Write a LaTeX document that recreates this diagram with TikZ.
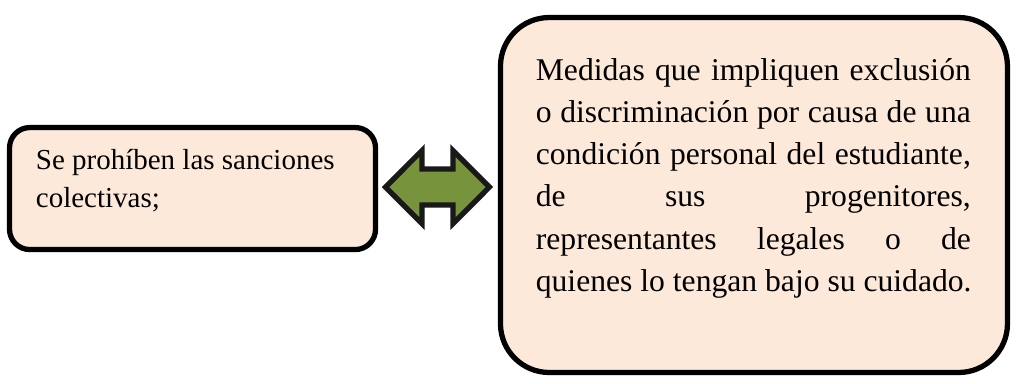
\documentclass[tikz,border=0pt]{standalone}
\usepackage{fontspec}
\setmainfont{Liberation Serif}
\definecolor{boxfill}{HTML}{FDE9D9}
\definecolor{linkgreen}{HTML}{77933C}
\newcommand{\fullline}[1]{\makebox[5.8cm][s]{#1}}

\begin{document}
\begin{tikzpicture}[
    box/.style={draw=black, line width=2pt, fill=boxfill},
    linkarrow/.style={draw=black!90, line width=2pt, fill=linkgreen, line join=miter},
    boxtext/.style={inner sep=0pt, anchor=base west, align=justify}
]
\useasboundingbox (0,0) rectangle (13.56,5.107);

% Boxes
\node[box, rounded corners=0.27cm, minimum width=4.88cm, minimum height=1.627cm] (sanciones) at (2.567,2.593) {};
\node[box, rounded corners=0.65cm, minimum width=6.76cm, minimum height=4.733cm] (medidas) at (10.053,2.507) {};

% Texts
\node[boxtext, text width=4.4cm, font=\fontsize{11}{14.5}\selectfont] (sancionestxt) at ([shift={(0.38,-0.593)}]sanciones.north west) {Se prohíben las sanciones\\colectivas;};
\node[boxtext, text width=5.8cm, font=\fontsize{12}{16}\selectfont] (medidastxt) at ([shift={(0.5,-0.873)}]medidas.north west) {\fullline{Medidas que impliquen exclusión}\\
\fullline{o discriminación por causa de una}\\
\fullline{condición personal del estudiante,}\\
\fullline{de sus progenitores,}\\
\fullline{representantes legales o de}\\
\mbox{quienes lo tengan bajo su cuidado.}};

% Double arrow
\coordinate (linkmid) at (5.833,2.613);
\draw[linkarrow, shift={(linkmid)}] (-0.693,0) -- (-0.207,0.487) -- (-0.207,0.24) -- (0.207,0.24) -- (0.207,0.487) -- (0.693,0) -- (0.207,-0.487) -- (0.207,-0.24) -- (-0.207,-0.24) -- (-0.207,-0.487) -- cycle;

\end{tikzpicture}
\end{document}
